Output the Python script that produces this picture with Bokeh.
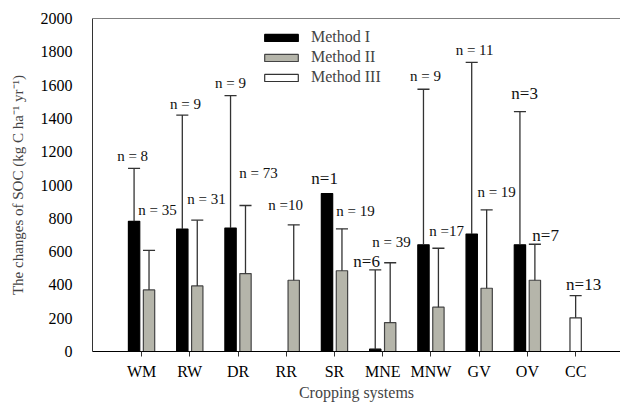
import math
from bokeh.plotting import figure
from bokeh.models import (Range1d, FixedTicker, Legend, LegendItem, Span,
                          ColumnDataSource)
from bokeh.core.properties import value
from bokeh.embed import file_html
from bokeh.resources import INLINE

NaN = float("nan")

# ---- data ----
categories = ["WM", "RW", "DR", "RR", "SR", "MNE", "MNW", "GV", "OV", "CC"]
method1 = [782, 735, 741, NaN, 949, 14, 641, 705, 641, NaN]
method1_upper = [1100, 1420, 1537, NaN, NaN, 490, 1575, 1736, 1441, NaN]
method2 = [370, 394, 468, 428, 485, 174, 266, 380, 428, NaN]
method2_upper = [607, 789, 877, 761, 737, 533, 620, 851, 644, NaN]
method3 = [NaN, NaN, NaN, NaN, NaN, NaN, NaN, NaN, NaN, 202]
method3_upper = [NaN, NaN, NaN, NaN, NaN, NaN, NaN, NaN, NaN, 336]
y_ticks = [0, 200, 400, 600, 800, 1000, 1200, 1400, 1600, 1800, 2000]

# sample-size annotations: text, x (category units), y (data units)
n_text = ["n = 8", "n = 35", "n = 9", "n = 31", "n = 9", "n = 73", "n =10", "n=1",
          "n = 19", "n=6", "n = 39", "n = 9", "n =17", "n = 11", "n = 19", "n=3",
          "n=7", "n=13"]
n_x = [0.815, 1.331, 1.912, 2.348, 2.845, 3.426, 3.986, 4.795, 5.437, 5.666,
       6.184, 6.889, 7.325, 7.905, 8.362, 8.942, 9.378, 10.166]
n_y = [1177, 847, 1489, 913, 1610, 1075, 877, 1039, 841, 541, 655, 1652, 721,
       1808, 955, 1550, 697, 402]
n_big = [False, False, False, False, False, False, False, True, False, True,
         False, False, False, False, False, True, True, True]

FONT = "Liberation Serif"
BAR_W = 0.235
OFF = 0.155

p = figure(width=620, height=403, output_backend="svg", toolbar_location=None,
           x_range=Range1d(-0.017, 10.93), y_range=Range1d(0, 2000),
           min_border_left=92, min_border_right=0, min_border_top=18,
           min_border_bottom=52)
p.grid.visible = False
p.outline_line_color = None
p.background_fill_color = "white"


def series(vals, ups, offset):
    xs, tops, upv = [], [], []
    for i, (v, u) in enumerate(zip(vals, ups)):
        if not math.isnan(v):
            xs.append(i + 1 + offset)
            tops.append(v)
            upv.append(u)
    return xs, tops, upv


renderers = []
specs = [(method1, method1_upper, -OFF, "#000000", "#000000"),
         (method2, method2_upper, OFF, "#b5b5aa", "#444444"),
         (method3, method3_upper, 0.0, "#ffffff", "#333333")]
for vals, ups, off, fill, line in specs:
    xs, tops, upv = series(vals, ups, off)
    src = ColumnDataSource(dict(x=xs, top=tops))
    r = p.vbar(x="x", top="top", bottom=0, width=BAR_W, source=src,
               fill_color=fill, line_color=line, line_width=1.2)
    renderers.append(r)
    ex, e0, e1 = [], [], []
    for x, t, u in zip(xs, tops, upv):
        if not math.isnan(u):
            ex.append(x); e0.append(t); e1.append(u)
    esrc = ColumnDataSource(dict(x=ex, y0=e0, y1=e1,
                                 xl=[x - 0.125 for x in ex],
                                 xr=[x + 0.125 for x in ex]))
    p.segment(x0="x", y0="y0", x1="x", y1="y1", source=esrc,
              line_color="#333333", line_width=1.3)
    p.segment(x0="xl", y0="y1", x1="xr", y1="y1", source=esrc,
              line_color="#333333", line_width=1.3)

# annotations
small = [i for i, b in enumerate(n_big) if not b]
big = [i for i, b in enumerate(n_big) if b]
for idx, size in ((small, "15px"), (big, "17px")):
    src = ColumnDataSource(dict(x=[n_x[i] for i in idx], y=[n_y[i] for i in idx],
                                t=[n_text[i] for i in idx]))
    p.text(x="x", y="y", text="t", source=src, text_font=value(FONT),
           text_font_size=size, text_align="center", text_baseline="middle",
           text_color="#111111")

# axes
xa = p.xaxis[0]
xa.ticker = FixedTicker(ticks=list(range(1, len(categories) + 1)))
xa.major_label_overrides = {i + 1: c for i, c in enumerate(categories)}
xa.major_label_text_font = FONT
xa.major_label_text_font_size = "16px"
xa.major_label_text_color = "#000000"
xa.major_label_standoff = 6
xa.major_tick_in = 0
xa.major_tick_out = 5
xa.major_tick_line_color = "#333333"
xa.minor_tick_line_color = None
xa.axis_line_color = "#000000"
xa.axis_label = "Cropping systems"
xa.axis_label_text_font = FONT
xa.axis_label_text_font_size = "16px"
xa.axis_label_text_font_style = "normal"
xa.axis_label_standoff = 1

ya = p.yaxis[0]
ya.ticker = FixedTicker(ticks=y_ticks)
ya.major_label_text_font = FONT
ya.major_label_text_font_size = "16px"
ya.major_label_text_color = "#000000"
ya.major_label_standoff = 14
ya.major_tick_line_color = None
ya.minor_tick_line_color = None
ya.axis_line_color = "#333333"
ya.axis_label = "The changes of SOC (kg C ha\u207b\u00b9 yr\u207b\u00b9)"
ya.axis_label_text_font = FONT
ya.axis_label_text_font_size = "15px"
ya.axis_label_text_font_style = "normal"
ya.axis_label_standoff = 12

p.add_layout(Span(location=y_ticks[-1], dimension="width", line_color="#000000",
                  line_width=1.2))

legend = Legend(items=[LegendItem(label="Method I", renderers=[renderers[0]]),
                       LegendItem(label="Method II", renderers=[renderers[1]]),
                       LegendItem(label="Method III", renderers=[renderers[2]])],
                location=(168, 264), orientation="vertical",
                glyph_width=42, glyph_height=9, label_height=20, spacing=0,
                padding=0, margin=0, label_standoff=9,
                label_text_font=FONT, label_text_font_size="16px",
                border_line_color=None, background_fill_alpha=0)
p.add_layout(legend, "center")

open("out.html", "w").write(file_html(p, INLINE))
